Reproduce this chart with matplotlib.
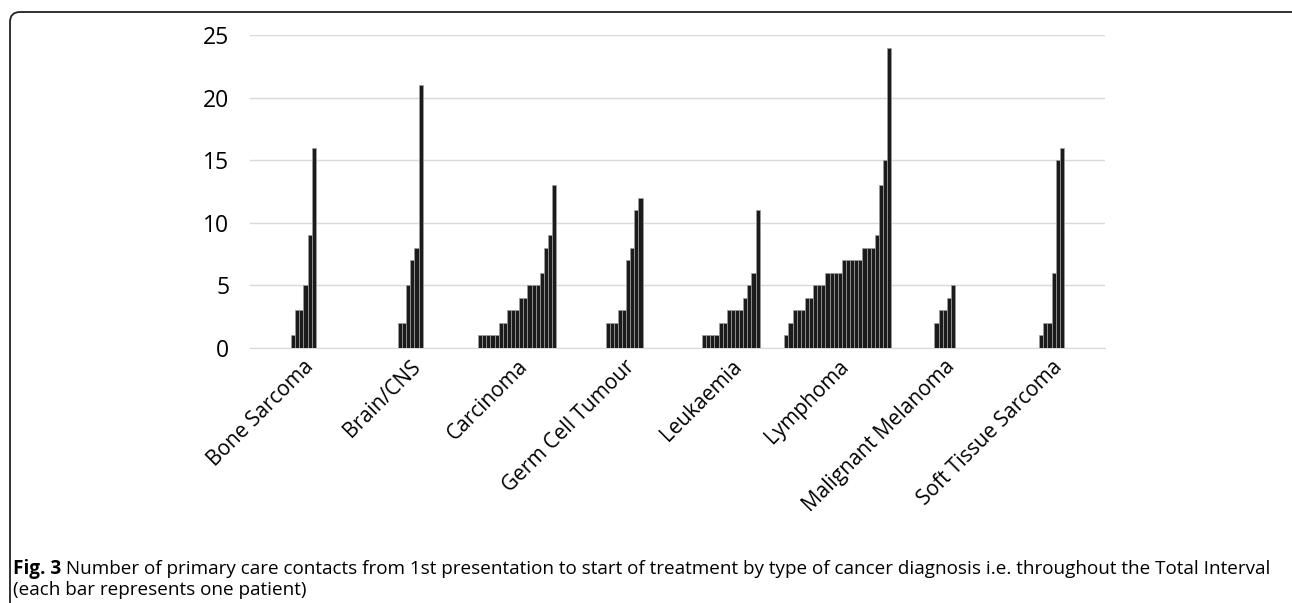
import matplotlib
matplotlib.use("Agg")
import matplotlib.pyplot as plt
from matplotlib.patches import FancyBboxPatch
import numpy as np

# contacts per patient, sorted, one bar per patient
categories = ["Bone Sarcoma", "Brain/CNS", "Carcinoma", "Germ Cell Tumour",
              "Leukaemia", "Lymphoma", "Malignant Melanoma", "Soft Tissue Sarcoma"]
bone_sarcoma = [1, 3, 3, 5, 9, 16]
brain_cns = [2, 2, 5, 7, 8, 21]
carcinoma = [1, 1, 1, 1, 1, 2, 2, 3, 3, 3, 4, 4, 5, 5, 5, 6, 8, 9, 13]
germ_cell = [2, 2, 2, 3, 3, 7, 8, 11, 12]
leukaemia = [1, 1, 1, 1, 2, 2, 3, 3, 3, 3, 4, 5, 6, 11]
lymphoma = [1, 2, 3, 3, 3, 4, 4, 5, 5, 5, 6, 6, 6, 6, 7, 7, 7, 7, 7,
            8, 8, 8, 9, 13, 15, 24]
melanoma = [2, 3, 3, 4, 5]
soft_tissue = [1, 2, 2, 6, 15, 16]
groups = [bone_sarcoma, brain_cns, carcinoma, germ_cell,
          leukaemia, lymphoma, melanoma, soft_tissue]
yticks = [0, 5, 10, 15, 20, 25]

caption_bold = "Fig. 3"
caption_rest = (" Number of primary care contacts from 1st presentation to start of treatment "
                "by type of cancer diagnosis i.e. throughout the Total Interval")
caption_line2 = "(each bar represents one patient)"

plt.rcParams['font.family'] = ['Open Sans', 'DejaVu Sans']

W, H = 1292, 603
fig = plt.figure(figsize=(W / 100, H / 100), dpi=100)

# plot area in pixels
x0, x1, y0, y1 = 250, 1105, 348, 35
ax = fig.add_axes([x0 / W, 1 - y0 / H, (x1 - x0) / W, (y0 - y1) / H])

nslots = max(len(g) for g in groups)
bw = 1.0 / nslots
for i, vals in enumerate(groups):
    n = len(vals)
    xs = i + 0.5 + (np.arange(n) - (n - 1) / 2) * bw
    ax.bar(xs, vals, width=bw, color="#1b1b1b", edgecolor="#a0a0a0",
           linewidth=0.5, zorder=3)

ax.set_xlim(0, len(categories))
ax.set_ylim(0, 25)
ax.set_yticks(yticks)
ax.set_yticklabels([str(v) for v in yticks], fontsize=16.5)
ax.yaxis.grid(True, color="#d9d9d9", linewidth=1.0, zorder=0)
ax.set_axisbelow(True)
for s in ["top", "right", "left"]:
    ax.spines[s].set_visible(False)
ax.spines["bottom"].set_color("#d9d9d9")
ax.tick_params(axis="y", length=0, pad=15)
ax.tick_params(axis="x", length=0, pad=6)
ax.set_xticks(np.arange(len(categories)) + 0.5)
ax.set_xticklabels(categories, rotation=45, ha="right", rotation_mode="anchor",
                   fontsize=15)

# overlay in pixel units for frame and caption
ov = fig.add_axes([0, 0, 1, 1], zorder=-1)
ov.set_xlim(0, W)
ov.set_ylim(H, 0)
ov.axis("off")
frame = FancyBboxPatch((10, 12), W + 40, H + 40, boxstyle="round,pad=0,rounding_size=10",
                       facecolor="none", edgecolor="#222222", linewidth=1.3)
ov.add_patch(frame)

t = ov.text(13, 569, caption_bold, fontsize=13.6, fontweight="bold", va="center", ha="left")
fig.canvas.draw()
bb = t.get_window_extent()
ov.text(13 + bb.width, 569, caption_rest, fontsize=13.6, va="center", ha="left")
ov.text(13, 590, caption_line2, fontsize=13.6, va="center", ha="left")

fig.savefig("out.png", dpi=100)
